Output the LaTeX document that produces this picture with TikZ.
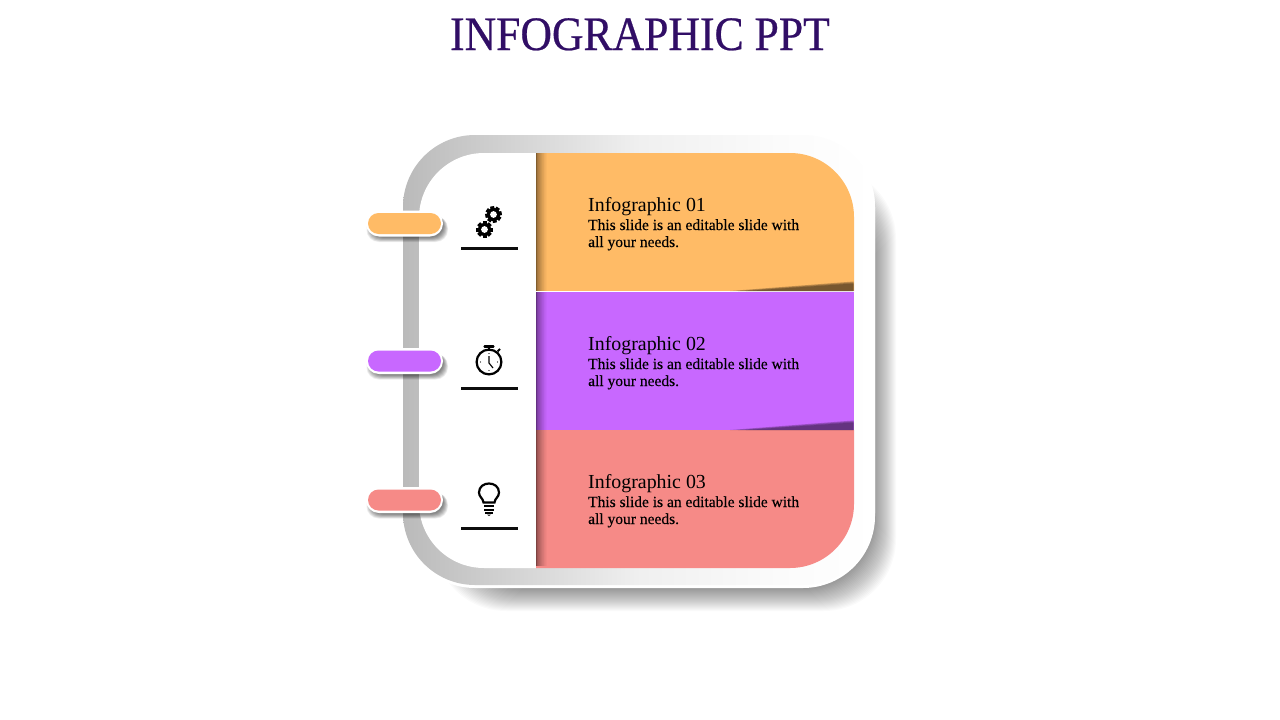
\documentclass[tikz,border=0pt]{standalone}
\usepackage{fontspec}
\setmainfont{Liberation Serif}
\newfontfamily\bodyfont[FakeBold=0.3]{Liberation Serif}
\newfontfamily\titlefont[FakeStretch=0.91,FakeBold=0.5]{Liberation Serif}
\usetikzlibrary{calc}
\definecolor{cOrange}{HTML}{FFBB66}
\definecolor{cPurple}{HTML}{C868FF}
\definecolor{cRed}{HTML}{F68A87}
\definecolor{cTitle}{HTML}{310E66}
\pgfdeclarehorizontalshading{frameshade}{100bp}{color(0bp)=(black!27); color(25bp)=(black!27); color(50bp)=(black!6); color(65bp)=(black!1.5); color(75bp)=(white); color(100bp)=(white)}
\tikzset{
  x=1pt,y=-1pt,
  titletext/.style={anchor=base,text=cTitle,font=\titlefont\fontsize{48}{48}\selectfont,inner sep=0},
  headtext/.style={anchor=base west,font=\fontsize{19.9}{20}\selectfont,inner sep=0},
  bodytext/.style={anchor=base west,font=\bodyfont\fontsize{15.5}{17}\selectfont,inner sep=0,align=left},
  rulebar/.style={line width=3pt,black!95},
  iconline/.style={line width=2.2pt,black,line cap=round},
}
\newcommand{\myPill}[2]{%
  \foreach \d in {0,...,9}{\fill[black,opacity=.06,rounded corners=12pt] (371-\d*.5,#1-9+\d*.2) rectangle (443.5+\d*.5,#1+14+\d*.5);}
  \fill[white,rounded corners=13pt] (366,#1-13) rectangle (443,#1+13);
  \fill[#2,rounded corners=10.5pt] (368,#1-10.5) rectangle (441,#1+10.5);
}
\newcommand{\myStrip}[2]{%
  \foreach \i in {1,...,26}{\fill[black,opacity=.022] (536,#1) rectangle (536+\i*\i*.016,#2);}
}
\newcommand{\myWedge}[2]{%
  \foreach \k/\o in {0/.3,1/.3,2/.3}{\fill[#2,opacity=\o] (730+\k*8,#1) -- (853.5,#1-9.5+\k) -- (853.5,#1) -- cycle;}
}
\newcommand{\myGear}[3]{%
  \foreach \a in {0,45,...,315}{\fill[black,rotate around={\a+#3:(#1,#2)}] (#1-2,#2-8.3) rectangle (#1+2,#2);}
  \fill[black] (#1,#2) circle[radius=6.6];
  \fill[white] (#1,#2) circle[radius=3.4];
}
\begin{document}
\begin{tikzpicture}
\useasboundingbox (0,0) rectangle (1280,720);
\fill[white] (0,0) rectangle (1280,720);
\node[titletext] (title) at (640,50) {INFOGRAPHIC PPT};
\foreach \d in {-18,-17,...,18}{\fill[black,opacity=.018,rounded corners=72pt] (452-\d,185-\d) rectangle (878+\d,593+\d);}
\fill[white,rounded corners=72pt] (403,135) rectangle (875,588);
\shade[shading=frameshade,rounded corners=72pt] (403,135) rectangle (875,585);
\fill[white] (536,153) -- (484,153) .. controls (448.1,153) and (419,182.1) .. (419,218) -- (419,503) .. controls (419,538.9) and (448.1,568) .. (484,568) -- (536,568) -- cycle;
\fill[cOrange] (536,153) -- (790,153) .. controls (825.3,153) and (854,181.7) .. (854,217) -- (854,291) -- (536,291) -- cycle;
\fill[white] (536,291) rectangle (854,292);
\fill[cPurple] (536,292) rectangle (854,430);
\fill[cRed] (536,430) -- (854,430) -- (854,504) .. controls (854,539.3) and (825.3,568) .. (790,568) -- (536,568) -- cycle;
\myStrip{153}{291}
\myStrip{292}{430}
\myStrip{430}{566}
\myWedge{291}{black!80!cOrange}
\myWedge{430}{black!75!cPurple}
\myPill{223.5}{cOrange}
\myPill{361}{cPurple}
\myPill{500}{cRed}
\draw[rulebar] (461,248) -- (518,248);
\draw[rulebar] (461,388) -- (518,388);
\draw[rulebar] (461,528) -- (518,528);
\myGear{493.5}{214.5}{10}
\myGear{484.5}{229.5}{0}
\draw[iconline] (489,362) circle[radius=12.4];
\draw[iconline] (489,350) -- (489,347);
\draw[iconline] (484.5,346.5) -- (493.5,346.5);
\draw[line width=1.8pt] (497.5,351.5) -- (500,349);
\draw[line width=1.1pt] (489,356) -- (489,363) -- (493,368);
\foreach \p in {(489,353.5),(489,370.5),(480.5,362),(497.5,362)}{\fill \p circle[radius=.7];}
\draw[iconline] (483.5,502.5) .. controls (483,498) and (479,497) .. (479,492.5) .. controls (479,486.5) and (484,483.5) .. (489,483.5) .. controls (494,483.5) and (499,486.5) .. (499,492.5) .. controls (499,497) and (495,498) .. (494.5,502.5) -- cycle;
\draw[line width=2pt] (484,506) -- (494,506);
\draw[line width=2pt] (484,509.5) -- (494,509.5);
\draw[line width=2pt] (485,513) -- (493,513);
\fill (487,514.5) -- (491,514.5) -- (489,516) -- cycle;
\node[headtext] (h1) at (588,211) {Infographic 01};
\node[bodytext] (b1a) at (588,230) {This slide is an editable slide with};
\node[bodytext] (b1b) at (588,247) {all your needs.};
\node[headtext] (h2) at (588,350) {Infographic 02};
\node[bodytext] (b2a) at (588,369) {This slide is an editable slide with};
\node[bodytext] (b2b) at (588,386) {all your needs.};
\node[headtext] (h3) at (588,488) {Infographic 03};
\node[bodytext] (b3a) at (588,507) {This slide is an editable slide with};
\node[bodytext] (b3b) at (588,524) {all your needs.};
\end{tikzpicture}
\end{document}
